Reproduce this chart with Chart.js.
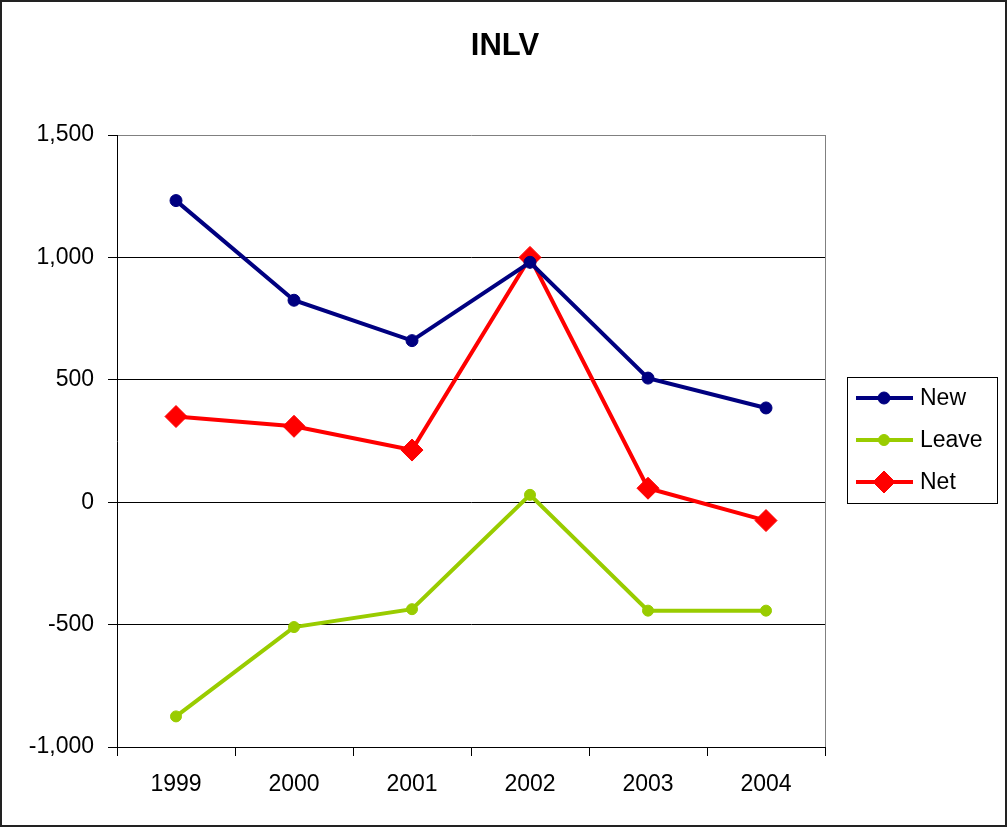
<!doctype html>
<html lang="en">
<head>
<meta charset="utf-8">
<style>
  body { margin: 0; background: #fff; }
  canvas { display: block; }
</style>
</head>
<body>
<canvas id="myChart" width="1008" height="828"></canvas>

<script src="https://cdn.jsdelivr.net/npm/chart.js"></script>
<script>
// chart data
const years = ['1999', '2000', '2001', '2002', '2003', '2004'];
const newValues = [1232, 825, 660, 980, 507, 385];
const leaveValues = [-875, -510, -437, 30, -443, -443];
const netValues = [350, 310, 213, 1000, 57, -75];
const chartTitle = 'INLV';

const FONT = "'Liberation Sans', Arial, sans-serif";

// white page, title centred on the whole page, outer frame, grey plot border right
const framePlugin = {
    id: 'frame',
    beforeDraw(chart) {
        const c = chart.ctx;
        c.save();
        c.fillStyle = '#fff';
        c.fillRect(0, 0, chart.width, chart.height);
        c.restore();
    },
    afterDraw(chart) {
        const c = chart.ctx;
        const a = chart.chartArea;
        c.save();
        c.strokeStyle = '#808080';
        c.lineWidth = 1;
        c.beginPath();
        c.moveTo(Math.round(a.right) + 0.5, a.top);
        c.lineTo(Math.round(a.right) + 0.5, a.bottom);
        c.stroke();
        c.fillStyle = '#000';
        c.font = 'bold 31px ' + FONT;
        c.textAlign = 'center';
        c.textBaseline = 'middle';
        c.fillText(chartTitle, 505, 46);
        c.strokeStyle = '#222';
        c.lineWidth = 2;
        c.strokeRect(1, 1, chart.width - 3, chart.height - 3);
        c.restore();
    }
};

// Excel style boxed legend, line + marker sample
const boxLegendPlugin = {
    id: 'boxLegend',
    afterDraw(chart) {
        const c = chart.ctx;
        c.save();
        c.strokeStyle = '#000';
        c.lineWidth = 1;
        c.strokeRect(847.5, 377.5, 150, 126);
        c.font = '23px ' + FONT;
        c.textBaseline = 'middle';
        chart.data.datasets.forEach((ds, i) => {
            const y = 398 + i * 42;
            c.strokeStyle = ds.borderColor;
            c.lineWidth = ds.borderWidth;
            c.beginPath();
            c.moveTo(856, y);
            c.lineTo(913, y);
            c.stroke();
            c.fillStyle = ds.pointBackgroundColor;
            c.strokeStyle = ds.pointBorderColor;
            c.lineWidth = 1;
            Chart.helpers.drawPoint(c, { pointStyle: ds.pointStyle, radius: ds.pointRadius, borderWidth: 1 }, 884, y);
            c.fillStyle = '#000';
            c.fillText(ds.label, 920, y + 1);
        });
        c.restore();
    }
};

function makeSeries(label, data, color, style, radius) {
    return {
        label: label,
        data: data,
        borderColor: color,
        backgroundColor: color,
        borderWidth: 4,
        pointStyle: style,
        pointRadius: radius,
        pointHoverRadius: radius,
        pointBackgroundColor: color,
        pointBorderColor: color,
        pointBorderWidth: 1,
        tension: 0
    };
}

const ctx = document.getElementById('myChart');

new Chart(ctx, {
    type: 'line',
    data: {
        labels: years,
        datasets: [
            makeSeries('New', newValues, '#000080', 'circle', 6),
            makeSeries('Leave', leaveValues, '#99CC00', 'circle', 5.5),
            makeSeries('Net', netValues, '#FF0000', 'rectRot', 11)
        ]
    },
    options: {
        responsive: false,
        animation: false,
        layout: { padding: { left: 0, right: 183, top: 135, bottom: 0 } },
        plugins: {
            legend: { display: false },
            tooltip: { enabled: false },
            title: { display: false }
        },
        scales: {
            x: {
                offset: true,
                afterFit(scale) { scale.height = 81; },
                grid: {
                    offset: true,
                    drawOnChartArea: false,
                    drawTicks: true,
                    tickLength: 9,
                    tickColor: '#000'
                },
                border: { color: '#000', width: 1 },
                ticks: {
                    color: '#000',
                    padding: 15,
                    maxRotation: 0,
                    font: { family: FONT, size: 23 }
                }
            },
            y: {
                min: -1000,
                max: 1500,
                afterFit(scale) { scale.width = 117; },
                grid: {
                    color: c => (c.tick && c.tick.value === 1500 ? '#808080' : '#000'),
                    tickColor: '#000',
                    tickLength: 9
                },
                border: { color: '#000', width: 1 },
                ticks: {
                    stepSize: 500,
                    color: '#000',
                    padding: 14,
                    font: { family: FONT, size: 23 },
                    callback: v => v.toLocaleString('en-US')
                }
            }
        }
    },
    plugins: [framePlugin, boxLegendPlugin]
});
</script>
</body>
</html>
